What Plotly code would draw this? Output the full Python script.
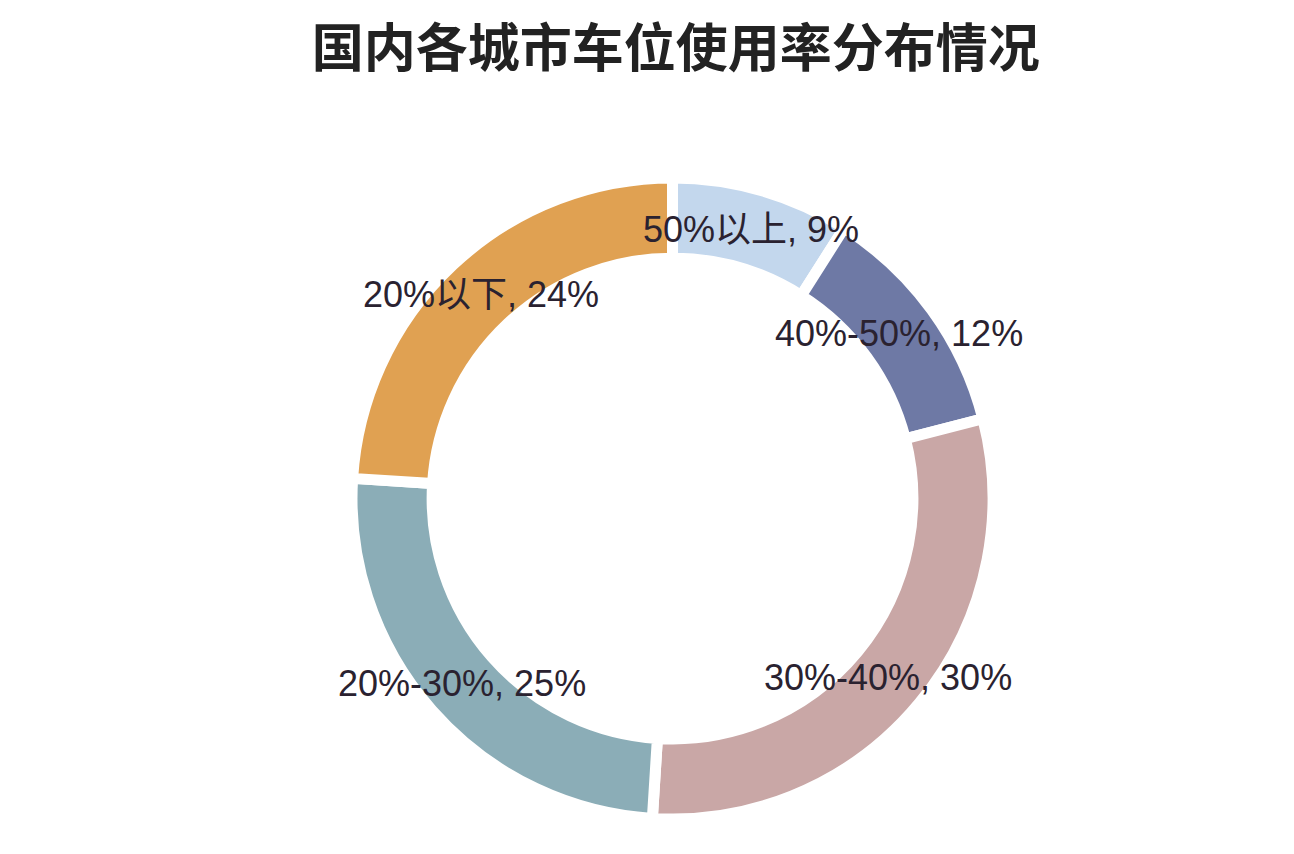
import math
import plotly.graph_objects as go

labels = ["50%以上", "40%-50%", "30%-40%", "20%-30%", "20%以下"]
values = [9, 12, 30, 25, 24]
colors = ["#c3d7ed", "#6e79a5", "#c9a7a6", "#8badb7", "#e0a152"]

fig = go.Figure(go.Pie(
    labels=labels,
    values=values,
    hole=0.75,
    sort=False,
    direction="clockwise",
    rotation=0,
    marker=dict(colors=colors, line=dict(color="white", width=11)),
    textinfo="none",
    hoverinfo="label+value",
    showlegend=False,
))

# labels sit on the middle of the ring, horizontally, like the original
total = sum(values)
ring_mid = 0.437  # fraction of the domain size
cum = 0
for lab, v in zip(labels, values):
    theta = 2 * math.pi * (cum + v / 2) / total
    cum += v
    fig.add_annotation(
        x=0.5 + ring_mid * math.sin(theta), y=0.5 + ring_mid * math.cos(theta),
        xref="paper", yref="paper", xanchor="center", yanchor="middle",
        showarrow=False,
        text=f"{lab}, {v}%",
        font=dict(family="Liberation Sans, Noto Sans CJK SC", size=36, color="#2a2230"),
    )

fig.update_layout(
    width=1294, height=854,
    title=dict(text="<b>国内各城市车位使用率分布情况</b>", x=0.516, xanchor="center", y=0.952, yanchor="middle",
               font=dict(family="Noto Sans CJK SC", size=52, color="#222222")),
    margin=dict(l=344, r=309, t=170, b=43),
    paper_bgcolor="white",
    plot_bgcolor="white",
)

fig.write_html("out.html")
